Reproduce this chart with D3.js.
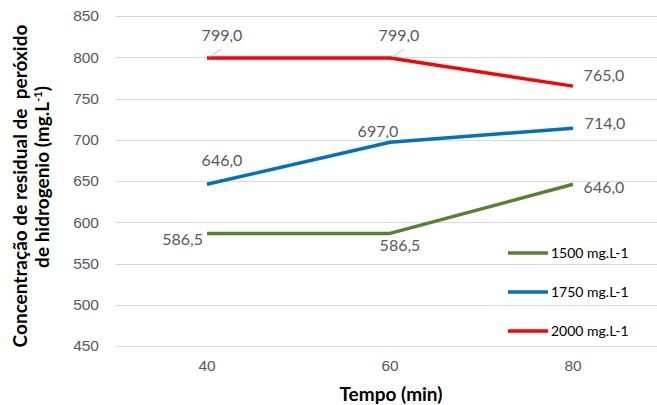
<!DOCTYPE html>
<html>
<head>
<meta charset="utf-8">
<script src="https://cdn.jsdelivr.net/npm/d3@7/dist/d3.min.js"></script>
<style>
  html, body { margin: 0; padding: 0; background: #fff; }
  svg { display: block; font-family: Lato, "Open Sans", sans-serif; }
</style>
</head>
<body>
<svg id="chart" width="657" height="405"></svg>
<script>
// Time points (min)
const categories = ["40", "60", "80"];
// Residual hydrogen peroxide per initial dose
const series1500 = [586.5, 586.5, 646.0];
const series1750 = [646.0, 697.0, 714.0];
const series2000 = [799.0, 799.0, 765.0];
const seriesNames = ["1500 mg.L-1", "1750 mg.L-1", "2000 mg.L-1"];
const seriesColors = ["#548235", "#0070C0", "#FF0000"];
const yTicks = [450, 500, 550, 600, 650, 700, 750, 800, 850];

// Label placement per point: offsets from the point, anchor, optional leader line
const labelPlacement = [
  [{dx: -4, dy: 12, anchor: "end"}, {dx: 10, dy: 18, anchor: "middle"}, {dx: 31, dy: 9, anchor: "middle"}],
  [{dx: 15, dy: -18, anchor: "middle"}, {dx: -12, dy: -5, anchor: "middle"}, {dx: 32, dy: 1, anchor: "middle"}],
  [{dx: 15, dy: -17, anchor: "middle", leader: true}, {dx: 9, dy: -17, anchor: "middle", leader: true}, {dx: 31, dy: -5, anchor: "middle"}]
];

const svg = d3.select("#chart");

const x = d3.scaleBand().domain(categories).range([115.5, 664.5]);
const y = d3.scaleLinear().domain([450, 850]).range([346, 16]);

// Horizontal gridlines
svg.append("g")
  .selectAll("line")
  .data(yTicks)
  .join("line")
  .attr("x1", 115.5).attr("x2", 664.5)
  .attr("y1", d => Math.round(y(d)) + 0.5).attr("y2", d => Math.round(y(d)) + 0.5)
  .attr("stroke", "#D9D9D9").attr("stroke-width", 1);

// Y axis labels
const yAxis = d3.axisLeft(y).tickValues(yTicks).tickSize(0).tickPadding(0).tickFormat(d3.format("d"));
const gy = svg.append("g").attr("transform", "translate(99,0)").call(yAxis);
gy.select(".domain").remove();
gy.selectAll("text").attr("fill", "#595959").attr("font-size", 15.5).attr("text-anchor", "end");

// X axis labels
const xAxis = d3.axisBottom(x).tickSize(0).tickPadding(0);
const gx = svg.append("g").attr("transform", "translate(0,360)").call(xAxis);
gx.select(".domain").remove();
gx.selectAll("text").attr("fill", "#595959").attr("font-size", 15.5).attr("dy", "0.72em");

// Axis titles
svg.append("text")
  .attr("x", 391).attr("y", 401)
  .attr("text-anchor", "middle").attr("font-size", 19).attr("font-weight", "bold").attr("fill", "#000")
  .text("Tempo (min)");

const yTitle = svg.append("text")
  .attr("transform", "rotate(-90)")
  .style("white-space", "pre")
  .attr("text-anchor", "middle").attr("font-size", 19).attr("font-weight", "bold").attr("fill", "#000");
yTitle.append("tspan").attr("x", -186).attr("y", 27).text("Concentração de residual de  peróxido");
const t2 = yTitle.append("tspan").attr("x", -177).attr("y", 49);
t2.append("tspan").text("de hidrogenio (mg.L");
t2.append("tspan").attr("font-size", 11).attr("dy", -7).text("-1");
t2.append("tspan").attr("dy", 7).text(")");

// Lines
const allSeries = [series1500, series1750, series2000];
const line = d3.line()
  .x((d, i) => x(categories[i]) + x.bandwidth() / 2)
  .y(d => y(d));

svg.append("g")
  .selectAll("path")
  .data(allSeries)
  .join("path")
  .attr("d", d => line(d))
  .attr("fill", "none")
  .attr("stroke", (d, i) => seriesColors[i])
  .attr("stroke-width", 3.5)
  .attr("stroke-linejoin", "round");

// Data labels
const fmt = v => v.toFixed(1).replace(".", ",");
allSeries.forEach((s, si) => {
  s.forEach((v, i) => {
    const px = x(categories[i]) + x.bandwidth() / 2;
    const py = y(v);
    const p = labelPlacement[si][i];
    if (p.leader) {
      svg.append("line")
        .attr("x1", px + 2).attr("y1", py - 1)
        .attr("x2", px + 14).attr("y2", py - 9)
        .attr("stroke", "#BFBFBF").attr("stroke-width", 1);
    }
    svg.append("text")
      .attr("x", px + p.dx).attr("y", py + p.dy)
      .attr("text-anchor", p.anchor)
      .attr("font-size", 16).attr("fill", "#595959")
      .text(fmt(v));
  });
});

// Legend
const legend = svg.append("g");
seriesNames.forEach((name, i) => {
  const ly = 253 + i * 39;
  legend.append("line")
    .attr("x1", 508).attr("x2", 548).attr("y1", ly).attr("y2", ly)
    .attr("stroke", seriesColors[i]).attr("stroke-width", 3.5);
  legend.append("text")
    .attr("x", 551).attr("y", ly + 5)
    .attr("font-size", 14).attr("fill", "#000")
    .text(name);
});
</script>
</body>
</html>
